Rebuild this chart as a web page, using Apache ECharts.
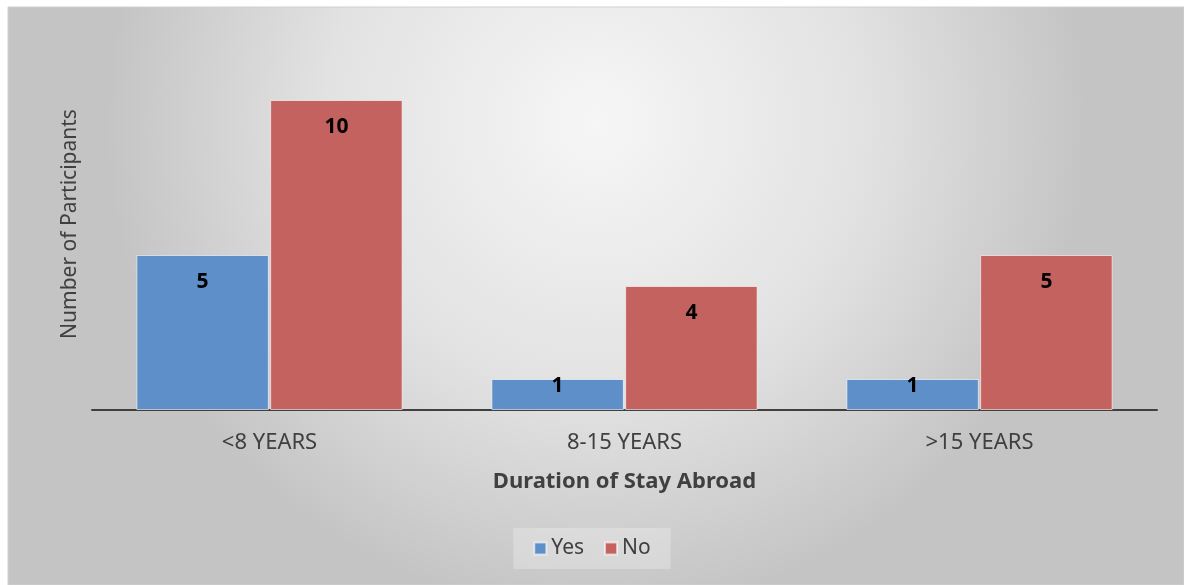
<!DOCTYPE html>
<html>
<head>
<meta charset="utf-8">
<script src="https://cdn.jsdelivr.net/npm/echarts@6/dist/echarts.min.js"></script>
<style>
  html, body { margin: 0; padding: 0; background: #ffffff; }
  #chart { width: 1184px; height: 585px; }
</style>
</head>
<body>
<div id="chart"></div>
<script>
// Survey responses grouped by how long participants lived abroad
const categories = ['<8 YEARS', '8-15 YEARS', '>15 YEARS'];
const yesValues = [5, 1, 1];
const noValues = [10, 4, 5];
const seriesNames = ['Yes', 'No'];

const FONT = 'Noto Sans';
const TEXT = '#404040';

// Short bars get their value label pulled up to the bar's top edge
function withLabels(values) {
  return values.map(v => ({
    value: v,
    label: { distance: v < 2 ? -3 : 17 }
  }));
}

const chart = echarts.init(document.getElementById('chart'));

chart.setOption({
  backgroundColor: '#ffffff',
  animation: false,
  textStyle: { fontFamily: FONT },
  graphic: [{
    type: 'rect',
    z: -10,
    silent: true,
    shape: { x: 8, y: 7, width: 1176, height: 578 },
    style: {
      fill: new echarts.graphic.RadialGradient(0.5, 0.2, 0.85, [
        { offset: 0, color: '#f6f6f6' },
        { offset: 0.55, color: '#e2e2e2' },
        { offset: 1, color: '#c4c4c4' }
      ]),
      stroke: '#d0d0d0',
      lineWidth: 1
    }
  }],
  grid: { left: 92, right: 27, top: 38, bottom: 175 },
  legend: {
    data: seriesNames,
    left: 'center',
    top: 528,
    icon: 'rect',
    itemWidth: 12,
    itemHeight: 12,
    itemGap: 20,
    padding: [10, 20],
    backgroundColor: 'rgba(255,255,255,0.25)',
    textStyle: { fontFamily: FONT, fontSize: 21, color: TEXT }
  },
  xAxis: {
    type: 'category',
    data: categories,
    name: 'Duration of Stay Abroad',
    nameLocation: 'middle',
    nameGap: 61,
    nameTextStyle: { fontFamily: FONT, fontSize: 22, fontWeight: 'bold', color: TEXT },
    axisLine: { lineStyle: { color: '#404040', width: 2 } },
    axisTick: { show: false },
    axisLabel: { fontFamily: FONT, fontSize: 22, color: TEXT, margin: 22 }
  },
  yAxis: {
    type: 'value',
    min: 0,
    max: 12,
    name: 'Number of Participants',
    nameLocation: 'middle',
    nameGap: 11,
    nameRotate: 90,
    nameTextStyle: { fontFamily: FONT, fontSize: 21, color: TEXT },
    axisLine: { show: false },
    axisTick: { show: false },
    axisLabel: { show: false },
    splitLine: { show: false }
  },
  series: [
    {
      name: seriesNames[0],
      type: 'bar',
      data: withLabels(yesValues),
      barGap: '1%',
      barCategoryGap: '25%',
      itemStyle: { color: '#5f8fc8', borderColor: 'rgba(255,255,255,0.6)', borderWidth: 1 },
      label: {
        show: true, position: 'insideTop',
        fontFamily: FONT, fontSize: 21, fontWeight: 'bold', color: '#000000'
      }
    },
    {
      name: seriesNames[1],
      type: 'bar',
      data: withLabels(noValues),
      itemStyle: { color: '#c4625f', borderColor: 'rgba(255,255,255,0.6)', borderWidth: 1 },
      label: {
        show: true, position: 'insideTop',
        fontFamily: FONT, fontSize: 21, fontWeight: 'bold', color: '#000000'
      }
    }
  ]
});
</script>
</body>
</html>
